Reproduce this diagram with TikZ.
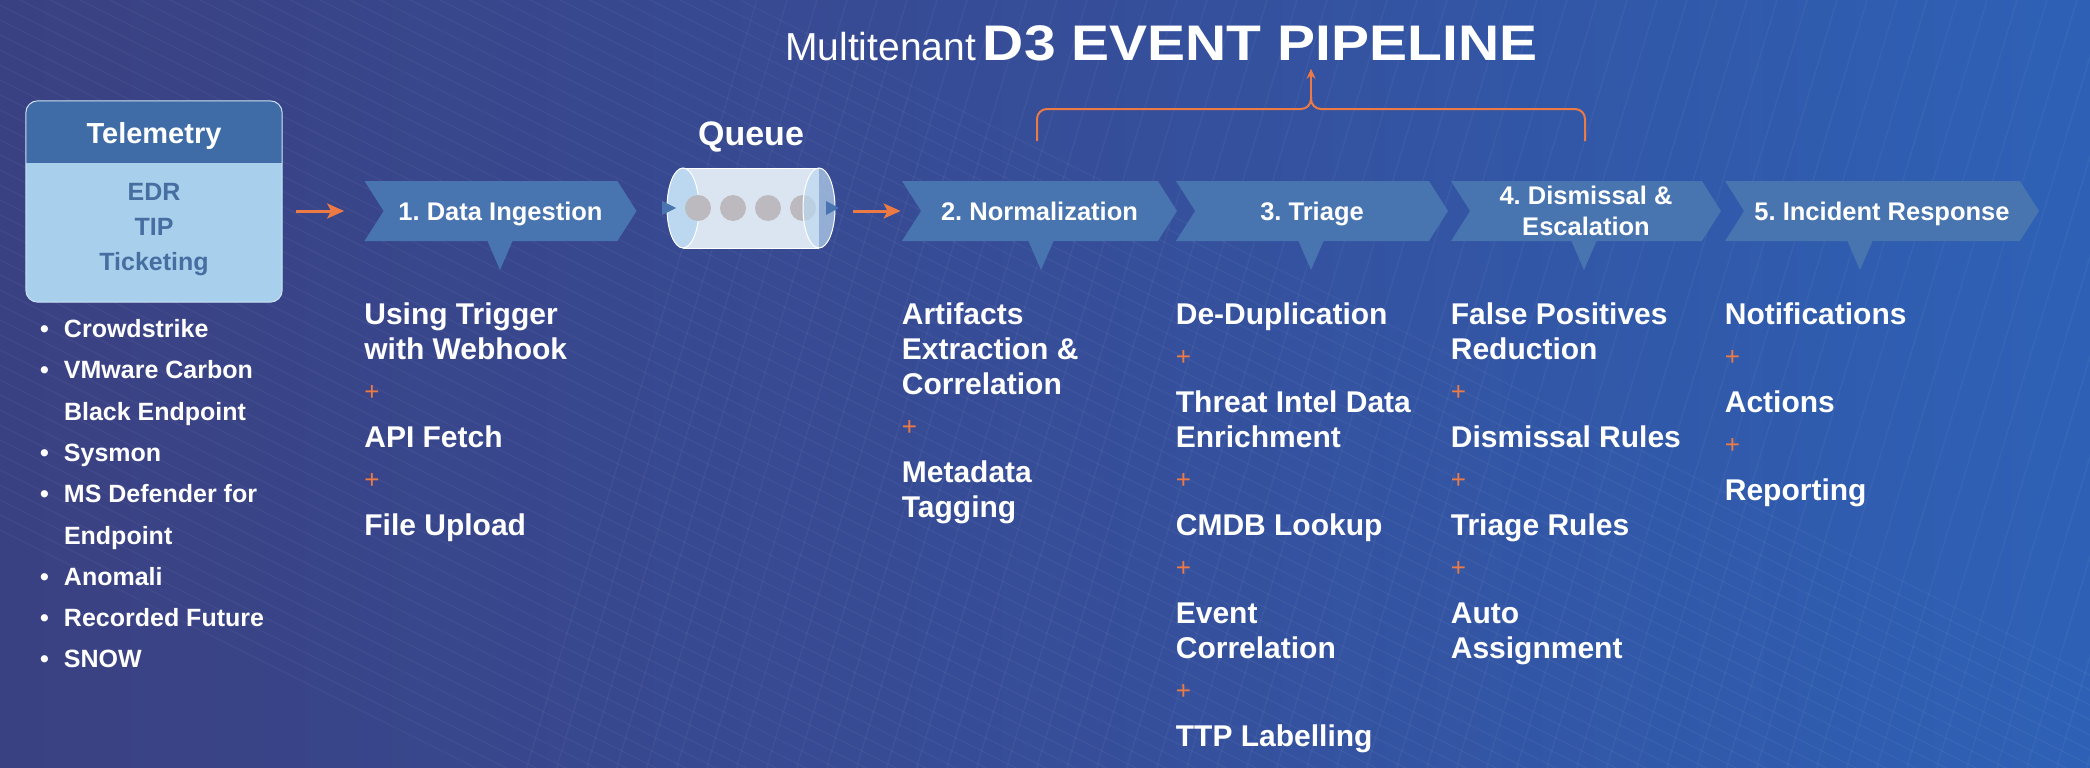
\documentclass[tikz,border=0pt]{standalone}
\usepackage{fontspec}
\setmainfont{Liberation Sans}
\newfontfamily\widefont[FakeStretch=1.14]{Liberation Sans}
\usepackage{xcolor}
\usepackage{tikz}
\usetikzlibrary{arrows.meta,positioning,calc,shapes.symbols}

\definecolor{bgleft}{RGB}{58,65,130}
\definecolor{bgmid}{RGB}{54,77,152}
\definecolor{bgright}{RGB}{46,97,182}
\definecolor{stageblue}{RGB}{72,116,176}
\definecolor{accent}{RGB}{236,122,68}
\definecolor{teleHead}{RGB}{63,108,166}
\definecolor{teleBody}{RGB}{168,208,236}
\definecolor{teleText}{RGB}{70,110,160}
\definecolor{tubeBody}{RGB}{228,238,248}
\definecolor{tubeEnd}{RGB}{188,216,240}
\definecolor{dotgrey}{RGB}{188,186,190}

\newcommand{\plusrow}{{\mdseries\fontsize{26}{35}\selectfont\color{accent}+}}
\newcommand{\bul}{\makebox[24pt][l]{\textbullet}}
\newcommand{\nobul}{\makebox[24pt][l]{}}
\frenchspacing

\begin{document}
\begin{tikzpicture}[x=1pt,y=-1pt,>=Stealth]
  \tikzstyle{stage}=[signal,signal to=east,signal from=west,signal pointer angle=115,fill=stageblue,text=white,font=\frenchspacing\bfseries\fontsize{25.5}{31}\selectfont,align=center,minimum width=272pt,minimum height=60pt,inner sep=0pt]
  \tikzstyle{oneline}=[text height=18.3pt,text depth=0pt]
  \tikzstyle{steps}=[inner sep=0pt,align=left,text=white,font=\bfseries\fontsize{30}{35}\selectfont]
  \tikzstyle{flow}=[accent,line width=3pt,-{Stealth[length=17pt,width=15pt,inset=4pt]}]
  \tikzstyle{brace}=[accent,line width=2pt,rounded corners=10pt]
  \tikzstyle{bgline}=[white,opacity=0.045,line width=1.3pt]

  % background
  \useasboundingbox (0,0) rectangle (2090,768);
  \shade[left color=bgleft,right color=bgright,middle color=bgmid] (0,0) rectangle (2090,768);
  \begin{scope}
    \clip (0,0) rectangle (2090,768);
    \foreach \i in {0,...,60}
      \draw[bgline] ({520+30*\i-2000},-210) -- ({520+30*\i},790) -- ({520+30*\i+270},-110);
  \end{scope}

  % title
  \node[anchor=base west,inner sep=0pt,text=white] (title) at (785,60)
    {\fontsize{39}{44}\selectfont Multitenant\hspace{7pt}{\widefont\bfseries\fontsize{50}{56}\selectfont D3 EVENT PIPELINE}};

  % telemetry
  \node[minimum width=256pt,minimum height=201pt,rounded corners=12pt,fill=teleBody,inner sep=0pt] (tele) at (154,201.5) {};
  \begin{scope}
    \clip[rounded corners=12pt] (tele.north west) rectangle (tele.south east);
    \fill[teleHead] (tele.north west) rectangle ($(tele.north east)+(0,62)$);
  \end{scope}
  \draw[teleBody!60!white,line width=1pt,rounded corners=12pt] (tele.north west) rectangle (tele.south east);
  \node[text=white,font=\bfseries\fontsize{29}{34}\selectfont,text height=20.8pt,text depth=0pt] (teletitle) at ($(tele.north)+(0,32)$) {Telemetry};
  \node[text=teleText,align=center,font=\bfseries\fontsize{25}{35}\selectfont] (telesrc) at (154,230) {EDR\\TIP\\Ticketing};
  \node[steps,font=\bfseries\fontsize{25}{41.3}\selectfont,below=17pt of tele.south west,anchor=north west,xshift=14pt] (srclist)
    {\bul Crowdstrike\\\bul VMware Carbon\\\nobul Black Endpoint\\\bul Sysmon\\\bul MS Defender for\\\nobul Endpoint\\\bul Anomali\\\bul Recorded Future\\\bul SNOW};

  % queue
  \node[minimum width=168pt,minimum height=80pt,inner sep=0pt] (queue) at (751,208) {};
  \node[text=white,font=\bfseries\fontsize{34}{40}\selectfont,above=15pt of queue,inner sep=0pt] (queuelbl) {Queue};
  \fill[tubeBody,opacity=0.95] (683,168) rectangle (819,248);
  \filldraw[fill=tubeEnd,draw=white,line width=1pt] (683,208) ellipse (16 and 40);
  \foreach \cx in {698,733,768,803}
    \fill[dotgrey] (\cx,208) circle[radius=13pt];
  \filldraw[fill=tubeEnd,fill opacity=0.7,draw=white,line width=1pt] (819,208) ellipse (16 and 40);
  \draw[white,line width=1pt] (683,168) -- (819,168) (683,248) -- (819,248);
  \fill[stageblue] (662,201) -- (676,208) -- (662,215) -- cycle;
  \fill[stageblue] (826,201) -- (839,208) -- (826,215) -- cycle;

  % stages
  \node[stage,oneline] (ingest) at (500.5,211) {1. Data Ingestion};
  \node[stage,oneline,minimum width=275pt] (norm) at (1039.5,211) {2. Normalization};
  \node[stage,oneline] (triage) at (1312,211) {3. Triage};
  \node[stage,minimum width=270pt] (dismiss) at (1586,211) {4. Dismissal \&\\Escalation};
  \node[stage,oneline,minimum width=314pt] (respond) at (1882,211) {5. Incident Response};
  \foreach \px in {500,1041,1311,1584,1860}
    \fill[stageblue] (\px-13,240) -- (\px+13,240) -- (\px,270) -- cycle;

  % stage details
  \node[steps,below=61pt of ingest.south west,anchor=north west] (ingestlist)
    {Using Trigger\\with Webhook\\[6pt]\plusrow\\[12pt]API Fetch\\[6pt]\plusrow\\[12pt]File Upload};
  \node[steps,below=61pt of norm.south west,anchor=north west] (normlist)
    {Artifacts\\Extraction \&\\Correlation\\[6pt]\plusrow\\[12pt]Metadata\\Tagging};
  \node[steps,below=61pt of triage.south west,anchor=north west] (triagelist)
    {De-Duplication\\[6pt]\plusrow\\[12pt]Threat Intel Data\\Enrichment\\[6pt]\plusrow\\[12pt]CMDB Lookup\\[6pt]\plusrow\\[12pt]Event\\Correlation\\[6pt]\plusrow\\[12pt]TTP Labelling};
  \node[steps,below=61pt of dismiss.south west,anchor=north west] (dismisslist)
    {False Positives\\Reduction\\[6pt]\plusrow\\[12pt]Dismissal Rules\\[6pt]\plusrow\\[12pt]Triage Rules\\[6pt]\plusrow\\[12pt]Auto\\Assignment};
  \node[steps,below=61pt of respond.south west,anchor=north west] (respondlist)
    {Notifications\\[6pt]\plusrow\\[12pt]Actions\\[6pt]\plusrow\\[12pt]Reporting};

  % connectors
  \draw[flow,shorten <=14pt,shorten >=20pt] (tele.east |- ingest.center) -- (ingest.north west |- ingest.center);
  \draw[flow,shorten <=18pt,shorten >=1pt] (queue.east |- norm.center) -- (norm.north west |- norm.center);
  \coordinate (braceL) at (1037,141);
  \coordinate (braceR) at (1585,141);
  \coordinate (braceTip) at (1311,97);
  \draw[brace] (braceL) -- (braceL |- 0,109) -- (braceTip |- 0,109) -- (braceTip);
  \draw[brace] (braceR) -- (braceR |- 0,109) -- (braceTip |- 0,109) -- (braceTip);
  \draw[accent,line width=2pt,-{Stealth[length=10pt,width=9pt]},shorten >=8pt] (braceTip) -- (braceTip |- title.south);
\end{tikzpicture}
\end{document}
